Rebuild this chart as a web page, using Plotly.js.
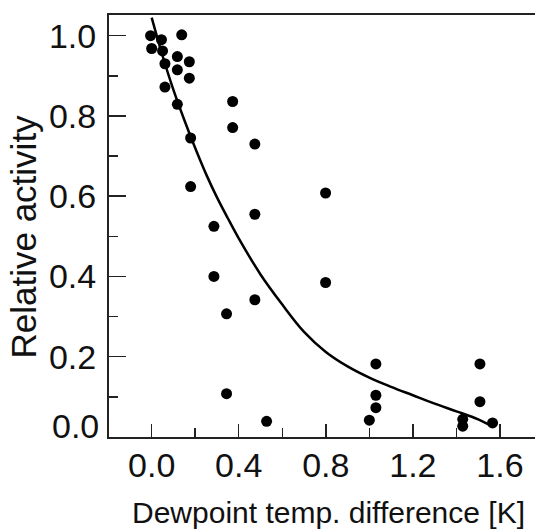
<!DOCTYPE html>
<html>
<head>
<meta charset="utf-8">
<script src="https://cdn.plot.ly/plotly-3.0.1.min.js"></script>
<style>html,body{margin:0;padding:0;background:#fff;}#chart{width:535px;height:529px;}</style>
</head>
<body>
<div id="chart"></div>
<script>
// Measured points
var pointX = [-0.005, 0.0, 0.045, 0.05, 0.138, 0.118, 0.173, 0.061, 0.118, 0.173, 0.061, 0.118, 0.179, 0.179,
              0.372, 0.372, 0.474, 0.474, 0.474, 0.799, 0.799, 0.286, 0.286, 0.344, 0.344, 0.528,
              1.03, 1.03, 1.03, 1.0, 1.508, 1.508, 1.429, 1.429, 1.566];
var pointY = [1.0, 0.968, 0.99, 0.962, 1.002, 0.948, 0.935, 0.93, 0.915, 0.894, 0.872, 0.829, 0.745, 0.624,
              0.836, 0.771, 0.73, 0.555, 0.342, 0.608, 0.385, 0.525, 0.40, 0.307, 0.108, 0.039,
              0.182, 0.104, 0.073, 0.042, 0.182, 0.088, 0.044, 0.027, 0.035];
// Fitted curve
var curveX = [0.0, 0.05, 0.10, 0.15, 0.20, 0.25, 0.30, 0.35, 0.40, 0.50, 0.60, 0.70, 0.80, 0.90, 1.00, 1.10, 1.20, 1.30, 1.40, 1.50, 1.56];
var curveY = [1.045, 0.95, 0.865, 0.79, 0.72, 0.655, 0.597, 0.545, 0.495, 0.405, 0.33, 0.262, 0.212, 0.176, 0.148, 0.125, 0.104, 0.083, 0.064, 0.044, 0.028];
// Ticks
var xTickVals = [0, 0.4, 0.8, 1.2, 1.6];
var xTickText = ['0.0', '0.4', '0.8', '1.2', '1.6'];
var xMinorVals = [0.2, 0.6, 1.0, 1.4];
var yTickVals = [0, 0.2, 0.4, 0.6, 0.8, 1.0];
var yTickText = ['', '0.2', '0.4', '0.6', '0.8', '1.0'];
var yMinorVals = [0.1, 0.3, 0.5, 0.7, 0.9];
var xTitle = 'Dewpoint temp. difference [K]';
var yTitle = 'Relative activity';

var font = 'Liberation Sans, Arial, sans-serif';

var traces = [
  {x: curveX, y: curveY, type: 'scatter', mode: 'lines',
   line: {color: '#000', width: 2.5, shape: 'spline', smoothing: 1}, hoverinfo: 'skip', cliponaxis: false},
  {x: pointX, y: pointY, type: 'scatter', mode: 'markers',
   marker: {color: '#000', size: 11}, cliponaxis: false}
];

var layout = {
  width: 535, height: 529,
  margin: {l: 109, r: 0, t: 15, b: 92},
  paper_bgcolor: '#fff', plot_bgcolor: '#fff',
  showlegend: false,
  xaxis: {
    range: [-0.196, 1.761], showgrid: false, zeroline: false,
    showline: true, linecolor: '#222', linewidth: 2, mirror: true,
    ticks: 'inside', tickmode: 'array', tickvals: xTickVals, ticktext: xTickText,
    ticklen: 13, tickwidth: 1.5, tickcolor: '#222',
    minor: {tickmode: 'array', tickvals: xMinorVals, ticks: 'inside', ticklen: 9, tickwidth: 1.5, tickcolor: '#222'},
    tickfont: {family: font, size: 34, color: '#111'},
    ticklabelstandoff: -3
  },
  yaxis: {
    range: [0, 1.0515], showgrid: false, zeroline: false,
    showline: true, linecolor: '#222', linewidth: 2,
    ticks: 'inside', tickmode: 'array', tickvals: yTickVals, ticktext: yTickText,
    ticklen: 17, tickwidth: 1.5, tickcolor: '#222',
    minor: {tickmode: 'array', tickvals: yMinorVals, ticks: 'inside', ticklen: 9, tickwidth: 1.5, tickcolor: '#222'},
    tickfont: {family: font, size: 34, color: '#111'},
    ticklabelstandoff: 4
  },
  annotations: [
    {text: xTitle, xref: 'paper', yref: 'paper', x: 0.5164, y: -0.1778, xanchor: 'center', yanchor: 'middle',
     showarrow: false, font: {family: font, size: 30, color: '#111'}},
    {text: yTitle, xref: 'paper', yref: 'paper', x: -0.2, y: 0.4746, xanchor: 'center', yanchor: 'middle',
     textangle: -90, showarrow: false, font: {family: font, size: 35, color: '#111'}},
    {text: '0.0', xref: 'paper', yref: 'paper', x: -0.019, y: 0.026, xanchor: 'right', yanchor: 'middle',
     showarrow: false, font: {family: font, size: 34, color: '#111'}}
  ]
};

Plotly.newPlot('chart', traces, layout, {displayModeBar: false, staticPlot: true});
</script>
</body>
</html>
